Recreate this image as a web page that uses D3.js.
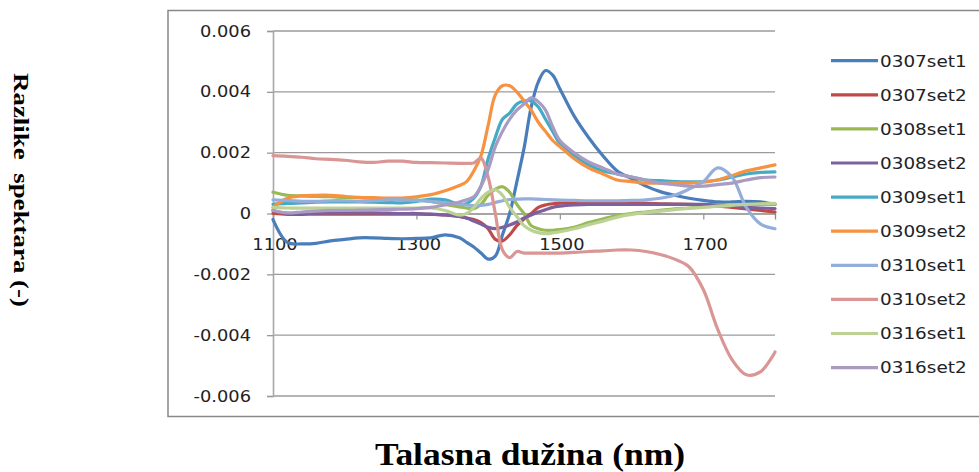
<!DOCTYPE html>
<html>
<head>
<meta charset="utf-8">
<script src="https://cdn.jsdelivr.net/npm/d3@7"></script>
<style>
body { margin: 0; background: #fff; }
svg { display: block; }
</style>
</head>
<body>
<div id="chart"></div>
<script>
// wavelengths (nm), finer around the absorption band
var wavelengths = [1100,1120,1140,1160,1180,1200,1220,1240,1260,1280,1300,1320,1340,1360,
	1370,1380,1390,1400,1410,1420,1430,1440,1450,1460,1470,1480,1490,1500,
	1520,1540,1560,1580,1600,1620,1640,1660,1680,1700,1720,1740,1760,1780,1800];

var seriesNames = ['0307set1','0307set2','0308set1','0308set2','0309set1','0309set2','0310set1','0310set2','0316set1','0316set2'];
var seriesColors = ['#4A7EBB','#BE4B48','#98B954','#7D60A0','#46AAC5','#F69240','#93AEDA','#D99694','#BBD294','#AA9BC2'];

var s0307set1 = [-0.0002,-0.00095,-0.001,-0.00098,-0.0009,-0.00085,-0.0008,-0.0008,-0.00082,-0.00083,-0.00082,-0.0008,-0.0007,-0.0008,
	-0.00095,-0.0011,-0.0013,-0.0015,-0.0014,-0.0007,0.0,0.00104,0.00214,0.0035,0.00433,0.0047,0.00455,0.0041,
	0.0032,0.0025,0.0019,0.0014,0.00115,0.0009,0.00072,0.0006,0.0005,0.00043,0.00038,0.00038,0.0004,0.00038,0.0003];
var s0307set2 = [0.0,-0.00003,-0.00003,-0.00002,-0.00002,-0.00002,-0.00002,-0.00002,-0.00002,-0.00002,-0.00002,-0.00003,-0.00005,-0.0001,
	-0.00015,-0.0002,-0.0003,-0.0005,-0.00085,-0.0009,-0.0007,-0.0004,-0.00018,0.0,0.0002,0.00028,0.00032,0.00034,
	0.00035,0.00035,0.00034,0.00034,0.00033,0.00033,0.00032,0.00031,0.0003,0.00028,0.00025,0.0002,0.00015,0.0001,0.00005];
var s0308set1 = [0.0007,0.0006,0.00058,0.00056,0.00055,0.00053,0.00052,0.0005,0.00048,0.00047,0.00045,0.0004,0.0003,0.00022,
	0.00018,0.00016,0.0003,0.0006,0.0008,0.00088,0.0007,0.0003,0.0,-0.0004,-0.0005,-0.00055,-0.00055,-0.00053,
	-0.00045,-0.0003,-0.00018,-0.00007,0.0,0.00005,0.0001,0.00015,0.00018,0.00022,0.00024,0.00027,0.00028,0.0003,0.0003];
var s0308set2 = [0.0001,0.0,0.0,0.00001,0.00002,0.00002,0.00002,0.00002,0.00001,0.0,0.0,-0.00002,-0.00005,-0.0001,
	-0.00015,-0.00025,-0.00035,-0.00045,-0.0005,-0.00045,-0.00038,-0.00028,-0.00015,-0.00005,0.00005,0.00012,0.0002,0.00024,
	0.00028,0.0003,0.0003,0.0003,0.0003,0.0003,0.0003,0.0003,0.0003,0.0003,0.00028,0.00025,0.0002,0.00018,0.00016];
var s0309set1 = [0.0003,0.00033,0.00035,0.00037,0.00038,0.00038,0.00038,0.00037,0.00036,0.00035,0.0004,0.00047,0.00045,0.0003,
	0.00033,0.0005,0.0009,0.0018,0.0025,0.0031,0.0033,0.0036,0.0037,0.0037,0.0035,0.0031,0.0027,0.0023,
	0.0019,0.0016,0.0014,0.0013,0.0012,0.0011,0.00108,0.00105,0.00104,0.00105,0.0011,0.0012,0.0013,0.00135,0.00137];
var s0309set2 = [0.0002,0.0005,0.00058,0.0006,0.0006,0.00056,0.00053,0.00052,0.00051,0.00051,0.00055,0.00062,0.00075,0.00092,
	0.00105,0.0014,0.0019,0.0029,0.0039,0.0042,0.0042,0.004,0.0037,0.0034,0.003,0.0027,0.0024,0.0022,
	0.0018,0.0015,0.0013,0.0011,0.00105,0.001,0.001,0.001,0.001,0.00103,0.0011,0.00125,0.0014,0.0015,0.0016];
var s0310set1 = [0.00045,0.00043,0.0004,0.0004,0.00042,0.00042,0.0004,0.00042,0.00045,0.00045,0.00043,0.0004,0.00035,0.0003,
	0.00028,0.00026,0.00027,0.0003,0.00036,0.00042,0.00046,0.00047,0.00048,0.00048,0.00047,0.00046,0.00045,0.00044,
	0.00043,0.00042,0.00042,0.00042,0.00043,0.00045,0.0005,0.0006,0.0008,0.00105,0.0015,0.0012,0.0002,-0.00035,-0.0005];
var s0310set2 = [0.0019,0.00188,0.00185,0.0018,0.00178,0.00175,0.0017,0.00168,0.00172,0.00172,0.00168,0.00167,0.00166,0.00165,
	0.00165,0.00166,0.00182,0.0012,0.0,-0.0012,-0.00145,-0.00125,-0.0013,-0.0013,-0.0013,-0.0013,-0.0013,-0.0013,
	-0.00128,-0.00125,-0.00123,-0.0012,-0.0012,-0.00125,-0.00135,-0.0015,-0.00175,-0.0025,-0.0038,-0.0048,-0.0053,-0.0052,-0.00455];
var s0316set1 = [0.0002,0.00018,0.00018,0.00018,0.00018,0.00018,0.00018,0.00018,0.00018,0.00018,0.00018,0.00018,0.0001,-0.00005,
	0.0,0.0002,0.0005,0.0007,0.00078,0.0006,0.0002,-0.0001,-0.0004,-0.00055,-0.00063,-0.00066,-0.00064,-0.0006,
	-0.0005,-0.00037,-0.00025,-0.00012,-0.00003,0.00003,0.00008,0.00013,0.00017,0.0002,0.00024,0.00027,0.0003,0.00032,0.00033];
var s0316set2 = [0.0001,0.00002,0.00005,0.00008,0.0001,0.0001,0.00011,0.00012,0.00013,0.00014,0.00016,0.0002,0.00028,0.00038,
	0.00045,0.00055,0.0009,0.00145,0.0022,0.0027,0.0031,0.0034,0.0036,0.0038,0.00367,0.0034,0.00285,0.0024,
	0.002,0.0017,0.0015,0.0013,0.0012,0.0011,0.001,0.00095,0.0009,0.0009,0.00095,0.001,0.0011,0.00118,0.0012];

var seriesValues = [s0307set1,s0307set2,s0308set1,s0308set2,s0309set1,s0309set2,s0310set1,s0310set2,s0316set1,s0316set2];

var yTicks = [-0.006,-0.004,-0.002,0,0.002,0.004,0.006];
var yTickLabels = ['-0.006','-0.004','-0.002','0','0.002','0.004','0.006'];
var xTicks = [1100,1300,1500,1700];

var width = 979, height = 472;
var plotLeft = 273, plotRight = 775, plotTop = 31, plotBottom = 396;
var tickFont = '"DejaVu Sans", Verdana, sans-serif';
var stretch = 1.15; // the original picture is a bit wide

var svg = d3.select('#chart').append('svg')
	.attr('width', width)
	.attr('height', height);

var x = d3.scaleLinear().domain([1100, 1800]).range([plotLeft, plotRight]);
var y = d3.scaleLinear().domain([-0.006, 0.006]).range([plotBottom, plotTop]);

// chart frame
svg.append('rect')
	.attr('x', 168).attr('y', 10.5)
	.attr('width', 830).attr('height', 406)
	.attr('fill', 'none')
	.attr('stroke', '#888')
	.attr('stroke-width', 1.5);

// horizontal gridlines
svg.selectAll('line.grid').data(yTicks).enter().append('line')
	.attr('class', 'grid')
	.attr('x1', plotLeft).attr('x2', plotRight)
	.attr('y1', function(d){ return y(d); })
	.attr('y2', function(d){ return y(d); })
	.attr('stroke', function(d){ return d === 0 ? 'none' : '#9b9b9b'; })
	.attr('stroke-width', 1.4);

// value axis
var yAxis = svg.append('g')
	.attr('transform', 'translate(' + plotLeft + ',0)')
	.call(d3.axisLeft(y).tickValues(yTicks).tickSize(6).tickFormat(''));
yAxis.select('.domain').attr('stroke', '#a8a8a8').attr('stroke-width', 1.6);
yAxis.selectAll('.tick line').attr('stroke', '#999').attr('stroke-width', 1.3);

yTicks.forEach(function(d, i){
	svg.append('text')
		.attr('transform', 'translate(251,' + y(d) + ') scale(' + stretch + ',1)')
		.attr('dy', '0.36em')
		.attr('text-anchor', 'end')
		.attr('font-family', tickFont)
		.attr('font-size', 15.5)
		.attr('fill', '#222')
		.text(yTickLabels[i]);
});

// category axis, crossing at zero
var xAxis = svg.append('g')
	.attr('transform', 'translate(0,' + y(0) + ')')
	.call(d3.axisBottom(x).tickValues(xTicks).tickSize(6).tickFormat(''));
xAxis.select('.domain').attr('stroke', '#888').attr('stroke-width', 1.3);
xAxis.selectAll('.tick line').attr('stroke', '#999').attr('stroke-width', 1.3);

xTicks.forEach(function(d){
	svg.append('text')
		.attr('transform', 'translate(' + (x(d) + 2) + ',249.5) scale(' + stretch + ',1)')
		.attr('text-anchor', 'middle')
		.attr('font-family', tickFont)
		.attr('font-size', 15.5)
		.attr('fill', '#222')
		.text(d);
});

// series, smoothed like the spreadsheet lines
var line = d3.line()
	.x(function(d){ return x(d[0]); })
	.y(function(d){ return y(d[1]); })
	.curve(d3.curveCatmullRom.alpha(0.5));

seriesValues.forEach(function(vals, i){
	svg.append('path')
		.datum(wavelengths.map(function(w, j){ return [w, vals[j]]; }))
		.attr('d', line)
		.attr('fill', 'none')
		.attr('stroke', seriesColors[i])
		.attr('stroke-width', 3.2)
		.attr('stroke-linejoin', 'round')
		.attr('stroke-linecap', 'round');
});

// legend
var legendTop = 60.7, legendStep = 34.1;
seriesNames.forEach(function(name, i){
	var ly = legendTop + i * legendStep;
	svg.append('line')
		.attr('x1', 831).attr('x2', 878)
		.attr('y1', ly).attr('y2', ly)
		.attr('stroke', seriesColors[i])
		.attr('stroke-width', 3.2);
	svg.append('text')
		.attr('transform', 'translate(880,' + (ly + 5.8) + ') scale(' + stretch + ',1)')
		.attr('font-family', tickFont)
		.attr('font-size', 16)
		.attr('fill', '#222')
		.text(name);
});

// axis titles
svg.append('text')
	.attr('x', 530).attr('y', 465)
	.attr('text-anchor', 'middle')
	.attr('font-family', '"Liberation Serif", "Times New Roman", serif')
	.attr('font-weight', 'bold')
	.attr('font-size', 32)
	.attr('textLength', 310)
	.attr('lengthAdjust', 'spacingAndGlyphs')
	.attr('fill', '#000')
	.text('Talasna dužina (nm)');

svg.append('text')
	.attr('transform', 'translate(13.5,190) rotate(90)')
	.attr('text-anchor', 'middle')
	.attr('font-family', '"Liberation Serif", "Times New Roman", serif')
	.attr('font-weight', 'bold')
	.attr('font-size', 21)
	.attr('textLength', 234)
	.attr('lengthAdjust', 'spacingAndGlyphs')
	.attr('fill', '#000')
	.style('white-space', 'pre')
	.text('Razlike  spektara (-)');
</script>
</body>
</html>
